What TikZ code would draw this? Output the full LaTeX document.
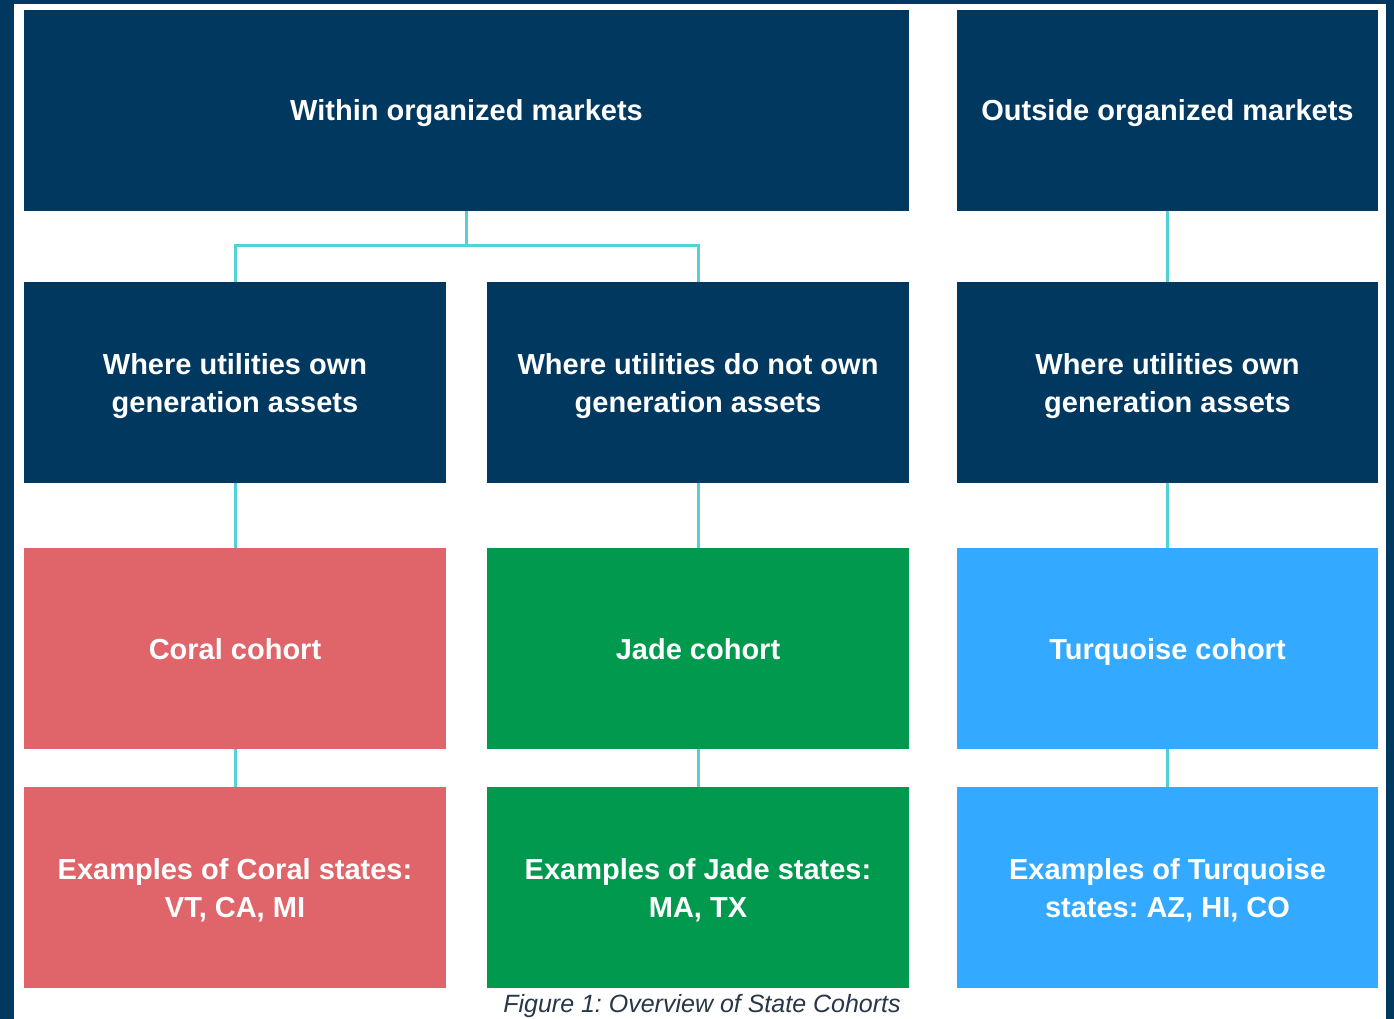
\documentclass[tikz,border=0pt]{standalone}
\usepackage{fontspec}
\setmainfont{Liberation Sans}
\frenchspacing
\definecolor{navy}{RGB}{1,56,96}
\definecolor{coral}{RGB}{224,101,106}
\definecolor{jade}{RGB}{0,153,77}
\definecolor{turq}{RGB}{51,170,255}
\definecolor{link}{RGB}{80,210,214}
\definecolor{captext}{RGB}{40,55,72}
\begin{document}
\begin{tikzpicture}[x=1pt,y=1pt,
  box/.style={anchor=north west, inner sep=0pt, outer sep=0pt,
    minimum height=201pt, text=white, align=center,
    font=\fontsize{29}{38}\selectfont\bfseries},
  narrow/.style={box, minimum width=422pt},
  rightcol/.style={box, minimum width=421pt},
  wide/.style={box, minimum width=885pt},
  oneline/.style={text height=24pt, text depth=3pt},
  twoline/.style={text height=62pt, text depth=3pt},
  conn/.style={draw=link, line width=3pt}]
  % frame and page
  \fill[navy] (0,0) rectangle (1394,-1019);
  \fill[white] (14,-4) rectangle (1386,-1019);
  \useasboundingbox (0,0) rectangle (1394,-1019);
  % top level
  \node[wide, oneline, fill=navy] (within) at (24,-10) {Within organized markets};
  \node[rightcol, oneline, fill=navy] (outside) at (957,-10) {Outside organized markets};
  % ownership level
  \node[narrow, twoline, fill=navy] (own1) at (24,-282) {Where utilities own\\generation assets};
  \node[narrow, twoline, fill=navy] (notown) at (487,-282) {Where utilities do not own\\generation assets};
  \node[rightcol, twoline, fill=navy] (own2) at (957,-282) {Where utilities own\\generation assets};
  % cohorts
  \node[narrow, oneline, fill=coral] (coral) at (24,-548) {Coral cohort};
  \node[narrow, oneline, fill=jade] (jade) at (487,-548) {Jade cohort};
  \node[rightcol, oneline, fill=turq] (turq) at (957,-548) {Turquoise cohort};
  % examples
  \node[narrow, twoline, fill=coral] (coralex) at (24,-787) {Examples of Coral states:\\VT, CA, MI};
  \node[narrow, twoline, fill=jade] (jadeex) at (487,-787) {Examples of Jade states:\\MA, TX};
  \node[rightcol, twoline, fill=turq] (turqex) at (957,-787) {Examples of Turquoise\\states: AZ, HI, CO};
  % connectors
  \draw[conn] (within.south) -- ++(0,-34) -| (own1.north);
  \draw[conn] (within.south) -- ++(0,-34) -| (notown.north);
  \draw[conn] (outside.south) -- (own2.north);
  \draw[conn] (own1.south) -- (coral.north);
  \draw[conn] (notown.south) -- (jade.north);
  \draw[conn] (own2.south) -- (turq.north);
  \draw[conn] (coral.south) -- (coralex.north);
  \draw[conn] (jade.south) -- (jadeex.north);
  \draw[conn] (turq.south) -- (turqex.north);
  % caption
  \node[text=captext, font=\fontsize{25}{28}\selectfont\itshape, anchor=center] (cap) at (702,-1006) {Figure 1: Overview of State Cohorts};
\end{tikzpicture}
\end{document}
